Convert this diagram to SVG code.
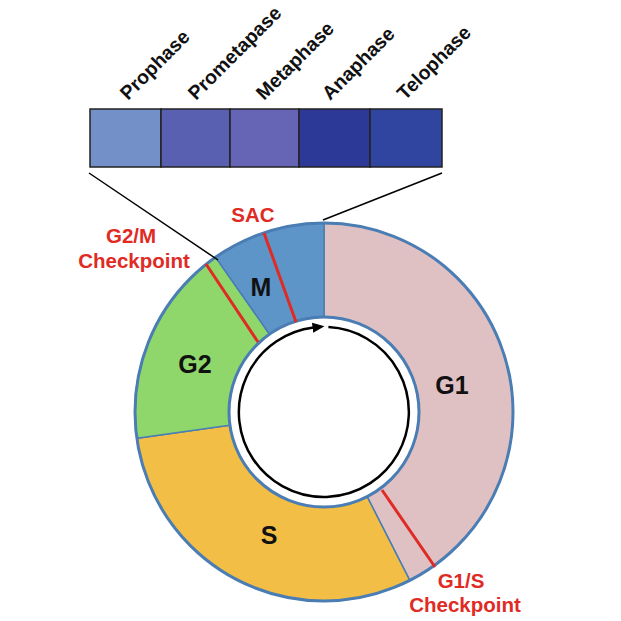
<svg xmlns="http://www.w3.org/2000/svg" width="621" height="621" viewBox="0 0 621 621">
<style>
.ph{font-family:"Liberation Sans",Arial,sans-serif;font-weight:bold;font-size:19.5px;fill:#111}
.cell{stroke:#222;stroke-width:1.5}
.seg{stroke:#4A7DB3;stroke-width:1.5}
.lbl{font-family:"Liberation Sans",Arial,sans-serif;font-weight:bold;font-size:25px;fill:#111;text-anchor:middle}
.red{font-family:"Liberation Sans",Arial,sans-serif;font-weight:bold;font-size:20.5px;fill:#E02B25;text-anchor:middle}
.chk{stroke:#E02B25;stroke-width:3}
.conn{stroke:#000;stroke-width:1.5;fill:none}
</style>
<defs>
<marker id="ah" markerWidth="12" markerHeight="12" refX="1" refY="5" orient="auto" markerUnits="userSpaceOnUse" viewBox="0 0 12 10">
<path d="M0,0 L12,5 L0,10 Z" fill="#000"/>
</marker>
</defs>
<rect width="621" height="621" fill="#fff"/>
<g id="mitosis-bar">
<rect class="cell" x="90" y="109" width="71" height="58" fill="#7490C9"/>
<rect class="cell" x="161" y="109" width="69" height="58" fill="#5A60B1"/>
<rect class="cell" x="230" y="109" width="69" height="58" fill="#6664B5"/>
<rect class="cell" x="299" y="109" width="71" height="58" fill="#2D3996"/>
<rect class="cell" x="370" y="109" width="72" height="58" fill="#2F45A0"/>
<text class="ph" transform="translate(128,101) rotate(-45)">Prophase</text>
<text class="ph" transform="translate(196,101) rotate(-45)">Prometapase</text>
<text class="ph" transform="translate(264,101) rotate(-45)">Metaphase</text>
<text class="ph" transform="translate(330,101) rotate(-45)">Anaphase</text>
<text class="ph" transform="translate(405,101) rotate(-45)">Telophase</text>
</g>
<g id="G1">
<path class="seg" fill="#DFC1C3" d="M324,223 A189,189 0 0 1 409.8,580.4 L367.1,496.6 A95,95 0 0 0 324,317 Z"/>
<text class="lbl" x="452" y="394">G1</text>
</g>
<g id="S">
<path class="seg" fill="#F2BE45" d="M409.8,580.4 A189,189 0 0 1 136.8,438.3 L229.9,425.2 A95,95 0 0 0 367.1,496.6 Z"/>
<text class="lbl" x="269" y="544">S</text>
</g>
<g id="G2">
<path class="seg" fill="#8FD76B" d="M136.8,438.3 A189,189 0 0 1 215.6,257.2 L269.5,334.2 A95,95 0 0 0 229.9,425.2 Z"/>
<text class="lbl" x="195" y="373">G2</text>
</g>
<g id="M">
<path class="seg" fill="#5E95C9" d="M215.6,257.2 A189,189 0 0 1 324,223 L324,317 A95,95 0 0 0 269.5,334.2 Z"/>
<text class="lbl" x="261" y="296">M</text>
</g>
<g id="ring-outline">
<circle cx="324" cy="412" r="189" fill="none" stroke="#4A7DB3" stroke-width="3"/>
<circle cx="324" cy="412" r="95" fill="#fff" stroke="#4A7DB3" stroke-width="3"/>
</g>
<g id="checkpoints">
<line class="chk" x1="264" y1="233" x2="296" y2="322"/>
<line class="chk" x1="206" y1="264" x2="258" y2="342"/>
<line class="chk" x1="382" y1="490" x2="435" y2="567"/>
<text class="red" x="253" y="222">SAC</text>
<text class="red" x="131" y="243">G2/M</text>
<text class="red" x="134" y="268">Checkpoint</text>
<text class="red" x="461" y="588">G1/S</text>
<text class="red" x="465" y="612">Checkpoint</text>
</g>
<g id="connectors">
<line class="conn" x1="89" y1="173" x2="218" y2="260"/>
<line class="conn" x1="442" y1="173" x2="323" y2="220"/>
<path d="M328.4,327.1 A85,85 0 1 1 313.6,327.6" fill="none" stroke="#000" stroke-width="2.5" marker-end="url(#ah)"/>
</g>
</svg>
